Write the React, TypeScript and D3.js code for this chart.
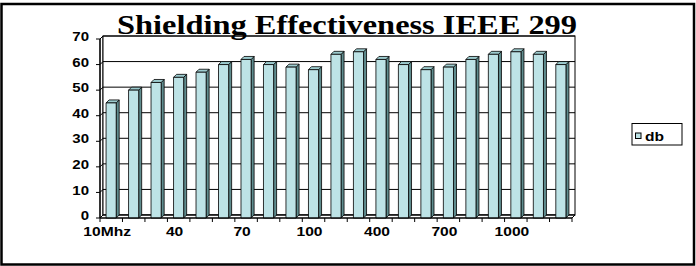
import React from "react";
import * as d3 from "d3";

const categories = [
  "10Mhz", "", "", "40", "", "", "70", "", "", "100", "", "",
  "400", "", "", "700", "", "", "1000", "", "",
];
const dbValues = [45, 50, 53, 55, 57, 60, 62, 60, 59, 58, 64, 65, 62, 60, 58, 59, 62, 64, 65, 64, 60];
const yTicks = [0, 10, 20, 30, 40, 50, 60, 70];
const seriesName = "db";
const title = "Shielding Effectiveness IEEE 299";

const W = 696;
const H = 266;
const D = 3; // 3d depth offset

const App: React.FC = () => {
  const left = 103;
  const right = 575;
  const top = 36;
  const bottom = 215;

  const keys = categories.map((_, i) => String(i));
  const x = d3.scaleBand<string>().domain(keys).range([left, right]).paddingInner(0.55).paddingOuter(0.27);
  const y = d3.scaleLinear().domain([0, 70]).range([bottom, top]);
  const step = (right - left) / categories.length;

  const lbl = { fontFamily: "Arial, 'Liberation Sans', sans-serif", fontWeight: 700, fontSize: 12 } as const;

  return (
    <svg width={W} height={H} style={{ position: "absolute", left: 0, top: 0 }}>
      <rect x={1.5} y={4} width={692.5} height={260.5} fill="white" stroke="black" strokeWidth={2.5} />

      {/* walls */}
      <polygon
        points={`${left - D},${top + D} ${left},${top} ${left},${bottom} ${left - D},${bottom + D}`}
        fill="white" stroke="black" strokeWidth={1}
      />
      <rect x={left} y={top} width={right - left} height={bottom - top} fill="white" stroke="black" strokeWidth={1} />
      <polygon
        points={`${left - D},${bottom + D} ${left},${bottom} ${right},${bottom} ${right - D},${bottom + D}`}
        fill="white" stroke="black" strokeWidth={1}
      />
      {yTicks.map((t) => (
        <g key={t}>
          <line x1={left} x2={right} y1={y(t)} y2={y(t)} stroke="black" strokeWidth={1} />
          <line x1={left - D} x2={left} y1={y(t) + D} y2={y(t)} stroke="black" strokeWidth={1} />
        </g>
      ))}

      {/* bars */}
      {dbValues.map((v, i) => {
        const bx = (x(String(i)) as number) - D;
        const bw = x.bandwidth();
        const yt = y(v) + D;
        const yb = bottom + D;
        return (
          <g key={i} stroke="black" strokeWidth={0.8} strokeLinejoin="round">
            <polygon points={`${bx + bw},${yt} ${bx + bw + D},${yt - D} ${bx + bw + D},${yb - D} ${bx + bw},${yb}`} fill="#5f8c8e" />
            <polygon points={`${bx},${yt} ${bx + D},${yt - D} ${bx + bw + D},${yt - D} ${bx + bw},${yt}`} fill="#9ccbce" />
            <rect x={bx} y={yt} width={bw} height={yb - yt} fill="#bde3e6" />
          </g>
        );
      })}

      {/* y axis */}
      <line x1={left - D} x2={left - D} y1={top + D} y2={bottom + D} stroke="black" strokeWidth={1.2} />
      {yTicks.map((t) => (
        <g key={t}>
          <line x1={left - D - 4} x2={left - D} y1={y(t) + D} y2={y(t) + D} stroke="black" strokeWidth={1} />
          <text
            transform={`translate(89,${y(t) + D - 1}) scale(1.25,1)`}
            textAnchor="end" dominantBaseline="middle" {...lbl}
          >
            {t}
          </text>
        </g>
      ))}

      {/* x axis */}
      <line x1={left - D} x2={right - D} y1={bottom + D} y2={bottom + D} stroke="black" strokeWidth={1.2} />
      {d3.range(categories.length + 1).map((i) => (
        <line key={i} x1={left - D + i * step} x2={left - D + i * step} y1={bottom + D} y2={bottom + D + 4} stroke="black" strokeWidth={1} />
      ))}
      {categories.map((c, i) =>
        c ? (
          <text
            key={i}
            transform={`translate(${(x(String(i)) as number) + x.bandwidth() / 2 - D - 4},236) scale(1.3,1)`}
            textAnchor="middle" {...lbl}
          >
            {c}
          </text>
        ) : null
      )}

      {/* title */}
      <text
        x={347} y={34} textAnchor="middle" textLength={460} lengthAdjust="spacingAndGlyphs"
        fontFamily="'Liberation Serif', 'Times New Roman', serif" fontWeight={700} fontSize={27}
      >
        {title}
      </text>

      {/* legend */}
      <rect x={632} y={123.5} width={50} height={21.5} fill="white" stroke="black" strokeWidth={1} />
      <rect x={635.5} y={133} width={5.5} height={5.5} fill="#bde3e6" stroke="black" strokeWidth={1} />
      <text transform="translate(645,141) scale(1.3,1)" {...lbl} fontSize={12}>
        {seriesName}
      </text>
    </svg>
  );
};

export default App;
